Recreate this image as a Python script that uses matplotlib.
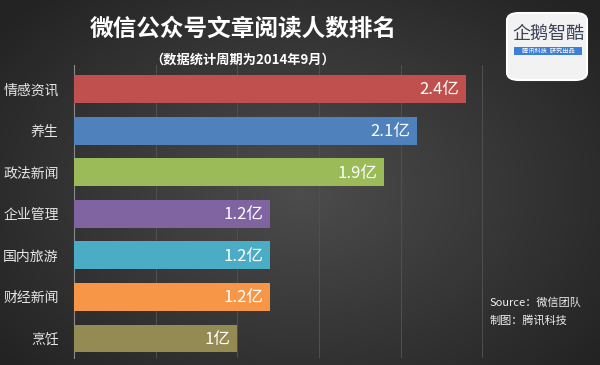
import matplotlib
matplotlib.use("Agg")
import matplotlib.pyplot as plt
from matplotlib.patches import FancyBboxPatch, Rectangle
import numpy as np

plt.rcParams['font.family'] = ['Noto Sans CJK SC', 'DejaVu Sans']

categories = ["情感资讯", "养生", "政法新闻", "企业管理", "国内旅游", "财经新闻", "烹饪"]
values = [2.4, 2.1, 1.9, 1.2, 1.2, 1.2, 1.0]
value_labels = ["2.4亿", "2.1亿", "1.9亿", "1.2亿", "1.2亿", "1.2亿", "1亿"]
colors = ["#c0504d", "#4f81bd", "#9bbb59", "#8064a2", "#4bacc6", "#f79646", "#948a54"]

W, H = 600, 365
fig = plt.figure(figsize=(6, 3.65), dpi=100)

# radial dark background
bg = fig.add_axes([0, 0, 1, 1], zorder=-10)
yy, xx = np.mgrid[0:H, 0:W]
r = np.sqrt(((xx - 300) / 330.0) ** 2 + ((yy - 190) / 230.0) ** 2)
shade = np.clip(0.30 - 0.14 * r, 0.14, 0.30)
bg.imshow(np.dstack([shade] * 3), extent=[0, 1, 0, 1], aspect='auto')
bg.set_axis_off()

ax = fig.add_axes([74 / W, 1 - 358 / H, 490 / W, 293 / H])
ax.set_facecolor('none')
y = np.arange(len(categories))
ax.barh(y, values, height=0.67, color=colors, zorder=3)
ax.set_xlim(0, 3.0)
ax.set_ylim(6.47, -0.58)
ax.set_xticks(np.arange(0.5, 2.51, 0.5))
ax.xaxis.grid(True, color='#505050', lw=0.7, zorder=0)
ax.tick_params(axis='x', length=0, labelbottom=False)
ax.set_yticks(y)
ax.set_yticklabels(categories, color='#e6e6e6', fontsize=10)
ax.tick_params(axis='y', length=0, pad=11)
for s in ['top', 'right', 'bottom']:
    ax.spines[s].set_visible(False)
ax.spines['left'].set_color('#8a8a8a')
ax.spines['left'].set_linewidth(0.8)

for yi, v, lab in zip(y, values, value_labels):
    ax.text(v - 0.04, yi + 0.02, lab, ha='right', va='center', color='white',
            fontsize=12, zorder=4)

# titles
fig.text(243 / W, 1 - 29 / H, "微信公众号文章阅读人数排名", ha='center', va='center',
         color='white', fontsize=17, fontweight='bold')
fig.text(243 / W, 1 - 60 / H, "（数据统计周期为2014年9月）", ha='center', va='center',
         color='white', fontsize=9.5, fontweight='bold')

# logo box
logo = FancyBboxPatch((507 / W, 1 - 80 / H), 80 / W, 67 / H,
                      boxstyle="round,pad=0,rounding_size=0.02",
                      transform=fig.transFigure, facecolor='#f2f2f2',
                      edgecolor='white', lw=1.5, zorder=5)
fig.patches.append(logo)
fig.text(548 / W, 1 - 34 / H, "企鹅智酷", ha='center', va='center',
         color='#3b4256', fontsize=13, zorder=6)
fig.patches.append(Rectangle((514 / W, 1 - 55 / H), 68 / W, 8 / H,
                             transform=fig.transFigure, facecolor='#3d7fd6',
                             edgecolor='none', zorder=6))
fig.text(548 / W, 1 - 51 / H, "腾讯科技  研究出品", ha='center', va='center',
         color='white', fontsize=4.5, zorder=7)

# source
fig.text(490 / W, 1 - 303 / H, "Source：微信团队", ha='left', va='center',
         color='#eeeeee', fontsize=8, style='italic')
fig.text(490 / W, 1 - 320 / H, "制图：腾讯科技", ha='left', va='center',
         color='#eeeeee', fontsize=8, style='italic')

fig.savefig("out.png", dpi=100)
